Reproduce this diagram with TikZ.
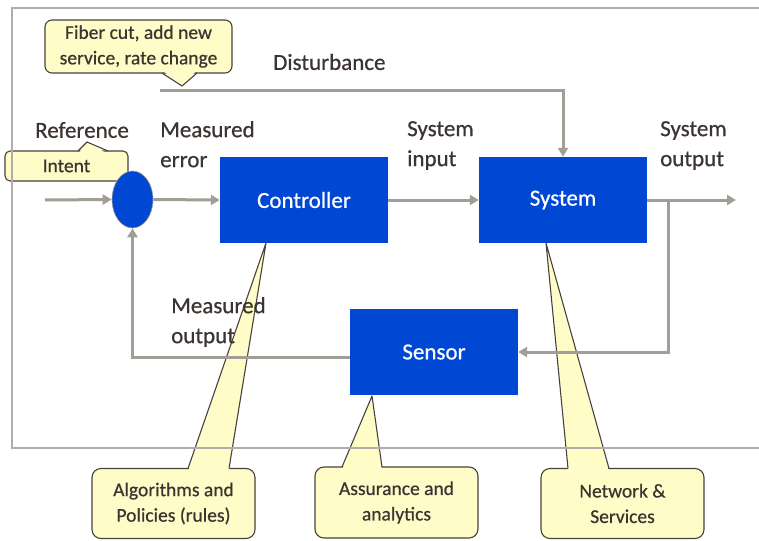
\documentclass[tikz,border=0pt]{standalone}
\usepackage{fontspec}
\setmainfont{Carlito}[FakeBold=0.6]
\usetikzlibrary{shapes.geometric,arrows.meta,calc}

\definecolor{boxblue}{RGB}{0,72,212}
\definecolor{flowgray}{RGB}{163,157,152}
\definecolor{framegray}{RGB}{178,173,170}
\definecolor{notefill}{RGB}{255,252,200}
\definecolor{noteline}{RGB}{70,66,62}
\definecolor{ink}{RGB}{60,52,49}

\tikzset{
  block/.style={rectangle, fill=boxblue, draw=none, minimum width=168pt,
    minimum height=86pt, inner sep=0pt, text=white, font=\fontsize{23}{26}\selectfont},
  flow/.style={draw=flowgray, line width=3pt,
    -{Triangle[length=9pt,width=10pt]}},
  label/.style={text=ink, align=left, inner sep=0pt,
    font=\fontsize{23}{30}\selectfont},
  note/.style={rectangle, rounded corners=9pt, fill=notefill, draw=noteline,
    line width=1.1pt, text=ink, align=center, inner sep=0pt,
    font=\fontsize{19.5}{25.5}\selectfont},
  notetail/.style={fill=notefill, draw=noteline, line width=1.1pt, line join=round},
  notecover/.style={fill=notefill, draw=none},
}

\begin{document}
\begin{tikzpicture}[x=1pt, y=-1pt]
\useasboundingbox (0,0) rectangle (759,540);
\fill[white] (0,0) rectangle (759,540);

% callouts (drawn first so the loop lines sit over their tails)
\node[note, minimum width=163pt, minimum height=70pt] (alg) at (173.5,503.5)
  {Algorithms and\\Policies (rules)};
\node[note, minimum width=163pt, minimum height=71pt] (assur) at (396.5,502.5)
  {Assurance and\\analytics};
\node[note, minimum width=163pt, minimum height=70pt] (netw) at (622.5,503.5)
  {Network \&\\Services};
\node[note, rounded corners=7pt, minimum width=187pt, minimum height=53pt] (fiber) at (138.5,46.5)
  {Fiber cut, add new\\service, rate change};
\node[note, rounded corners=5pt, minimum width=123pt, minimum height=30pt] (intent) at (66.5,166)
  {Intent};

% main blocks
\node[block] (ctrl) at (304,200) {\raisebox{-1pt}{Controller}};
\node[block] (sys)  at (563,200) {\raisebox{-2pt}{System}};
\node[block] (sens) at (434,352) {\raisebox{-1pt}{Sensor}};
\node[ellipse, fill=boxblue, draw=flowgray, line width=0.6pt,
  minimum width=41pt, minimum height=57pt, inner sep=0pt] (sum) at (132.5,199.5) {};

% callout tails
\coordinate (algtip) at (266,243);
\coordinate (assurtip) at (372,396);
\coordinate (netwtip) at (546,243);
\fill[notecover] (188,471) -- (algtip) -- (229,471) -- cycle;
\draw[notetail, fill=none] (188,468.5) -- (algtip) -- (229,468.5);
\fill[notecover] (342,470) -- (assurtip) -- (382,470) -- cycle;
\draw[notetail, fill=none] (342,467) -- (assurtip) -- (382,467);
\fill[notecover] (568,471) -- (netwtip) -- (609,471) -- cycle;
\draw[notetail, fill=none] (568,468.5) -- (netwtip) -- (609,468.5);
\fill[notecover] (162,70) -- (182,86) -- (197,70) -- cycle;
\draw[notetail, fill=none] (162,73) -- (182,86) -- (197,73);
\fill[notecover] (78,154) -- (87,142) -- (108,154) -- cycle;
\draw[notetail, fill=none] (78,151) -- (87,142) -- (108,151);

% outer frame
\draw[framegray, line width=1.4pt] (12,8) rectangle (775,448);

% signal path
\coordinate (refin) at (45,200);
\coordinate (disturb) at (160,91);
\coordinate (outend) at (736,200);
\coordinate (tap) at (668,200);
\coordinate (fbstart) at ($(sens.west)+(0,5)$);

\draw[flow] (refin) -- (sum.west);
\draw[flow] (sum.east) -- (ctrl.west);
\draw[flow] (ctrl.east) -- (sys.west);
\draw[flow] (disturb) -| (sys.north);
\draw[flow] (sys.east) -- (outend);
\draw[flow] (tap) |- (sens.east);
\draw[flow] (fbstart) -| (sum.south);

% signal labels
\node[label, anchor=west] (lref) at (35,130) {Reference};
\node[label, anchor=west] (ldist) at (273,62) {Disturbance};
\node[label, anchor=north west] (lerr) at (160,121) {Measured\\error};
\node[label, anchor=north west] (lin) at (407,121) {System\\input};
\node[label, anchor=north west] (lout) at (660,121) {System\\output};
\node[label, anchor=north west] (lmeas) at (171,297) {Measured\\output};
\end{tikzpicture}
\end{document}
